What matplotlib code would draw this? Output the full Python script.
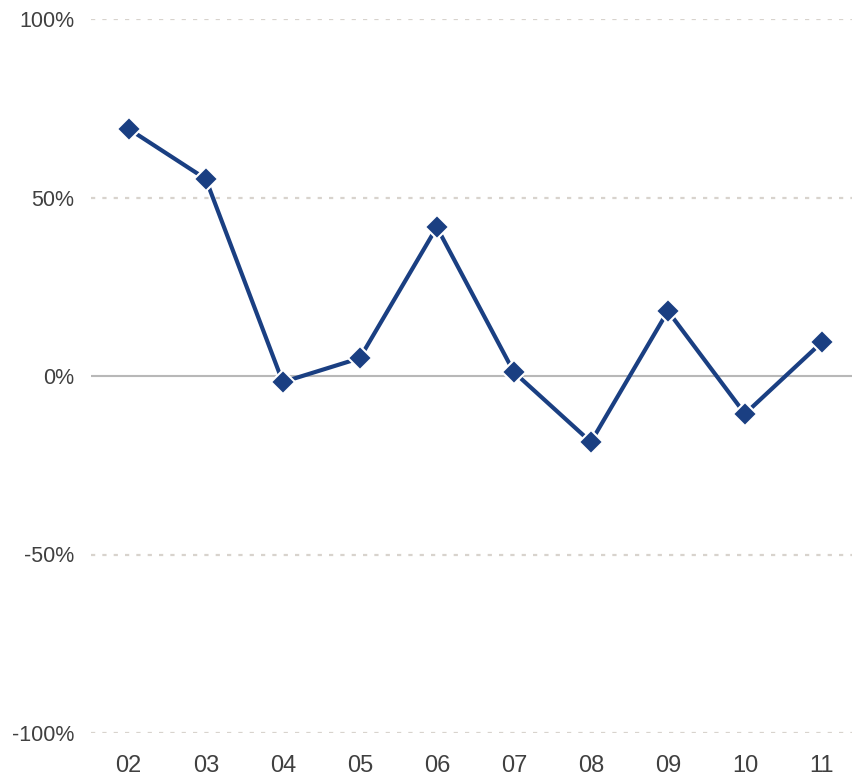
import matplotlib
matplotlib.use("Agg")
import matplotlib.pyplot as plt
from matplotlib.ticker import FuncFormatter

# year labels and growth rate (%)
years = ["02", "03", "04", "05", "06", "07", "08", "09", "10", "11"]
growth = [69.2, 55.2, -1.7, 5.0, 41.7, 1.1, -18.5, 18.2, -10.6, 9.5]
y_ticks = [-100, -50, 0, 50, 100]

plt.rcParams["font.family"] = ["Liberation Sans", "DejaVu Sans"]

fig = plt.figure(figsize=(8.52, 7.82), dpi=100)
ax = fig.add_axes([91 / 852, 49 / 782, 1 - 91 / 852, 714 / 782])

x = list(range(len(years)))
ax.plot(x, growth, color="#1a3f82", lw=3, marker="D", ms=12,
        mfc="#1a3f82", mec="white", mew=1.5, zorder=3, clip_on=False)

ax.set_ylim(-100, 100)
ax.set_xlim(-0.49, 9.39)
ax.set_yticks(y_ticks)
ax.yaxis.set_major_formatter(FuncFormatter(lambda v, _: f"{v:.0f}%"))
ax.set_xticks(x)
ax.set_xticklabels(years)

for v in y_ticks:
    if v == 0:
        ax.axhline(v, color="#b8b8b8", lw=1.5, zorder=1)
    else:
        ax.axhline(v, color="#d8d3cd", lw=1.6, ls=(0, (1.9, 3.2)), zorder=1)

for s in ax.spines.values():
    s.set_visible(False)
ax.tick_params(axis="y", length=0, pad=12, labelsize=15.5, labelcolor="#404040")
ax.tick_params(axis="x", length=0, pad=16, labelsize=17, labelcolor="#404040")

fig.savefig("out.png", dpi=100)
